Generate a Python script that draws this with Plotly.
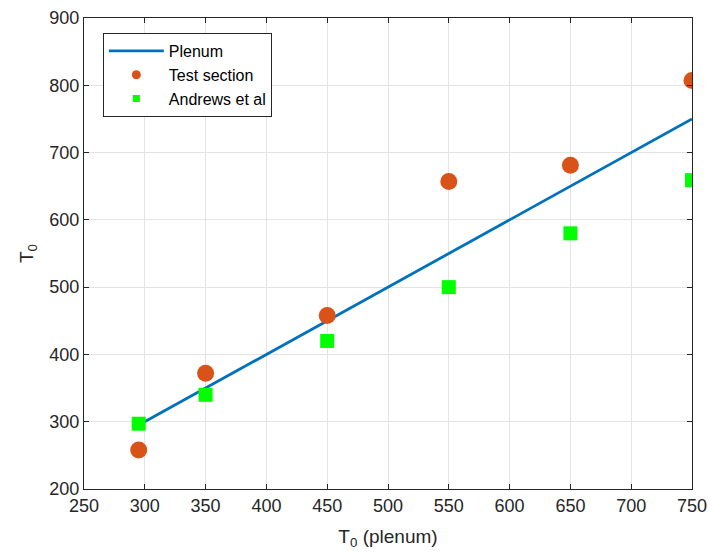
import plotly.graph_objects as go

x_plenum = [295, 750]
y_plenum = [295, 750]

x_points = [295, 350, 450, 550, 650, 750]
test_section = [258, 372, 458, 657, 681, 807]
andrews = [297, 340, 420, 500, 580, 659]

x_ticks = [250, 300, 350, 400, 450, 500, 550, 600, 650, 700, 750]
y_ticks = [200, 300, 400, 500, 600, 700, 800, 900]

BLUE = "#0072BD"
ORANGE = "#D95319"
GREEN = "#00FF00"
AX = "#262626"
FONT = "Liberation Sans, Arial, Helvetica, sans-serif"

fig = go.Figure()
fig.add_trace(go.Scatter(x=x_plenum, y=y_plenum, mode="lines", name="Plenum",
                         line=dict(color=BLUE, width=2.8), showlegend=True))
fig.add_trace(go.Scatter(x=x_points, y=test_section, mode="markers", showlegend=False,
                         marker=dict(color=ORANGE, size=17, symbol="circle", line=dict(width=0))))
fig.add_trace(go.Scatter(x=x_points, y=andrews, mode="markers", showlegend=False,
                         marker=dict(color=GREEN, size=14, symbol="square", line=dict(width=0))))
# legend-only entries with smaller markers
fig.add_trace(go.Scatter(x=[None], y=[None], mode="markers", name="Test section",
                         marker=dict(color=ORANGE, size=9, symbol="circle", line=dict(width=0))))
fig.add_trace(go.Scatter(x=[None], y=[None], mode="markers", name="Andrews et al",
                         marker=dict(color=GREEN, size=7, symbol="square", line=dict(width=0))))

axis_common = dict(
    showline=True, linecolor=AX, linewidth=1, mirror="ticks",
    ticks="inside", ticklen=5, tickcolor=AX,
    showgrid=True, gridcolor="#E3E3E3", gridwidth=1,
    zeroline=False, automargin=False,
    tickfont=dict(family=FONT, size=18, color=AX),
)

fig.update_xaxes(range=[250, 750], tickvals=x_ticks,
                 title=dict(text="T<sub>0</sub> (plenum)", standoff=15,
                            font=dict(family=FONT, size=19, color=AX)),
                 **axis_common)
fig.update_yaxes(range=[200, 900], tickvals=y_ticks,
                 title=dict(text="T<sub>0</sub>", standoff=10,
                            font=dict(family=FONT, size=19, color=AX)),
                 **axis_common)

fig.update_layout(
    width=709, height=553,
    margin=dict(l=84, r=17, t=18, b=64),
    plot_bgcolor="white", paper_bgcolor="white",
    legend=dict(x=0.031, y=0.968, xanchor="left", yanchor="top",
                bgcolor="white", bordercolor=AX, borderwidth=1,
                font=dict(family=FONT, size=16, color="black"),
                tracegroupgap=0, itemwidth=55),
)

fig.write_html("out.html",
               config={"displayModeBar": False},
               post_script="document.body.style.margin='0';document.body.style.overflow='hidden';")
